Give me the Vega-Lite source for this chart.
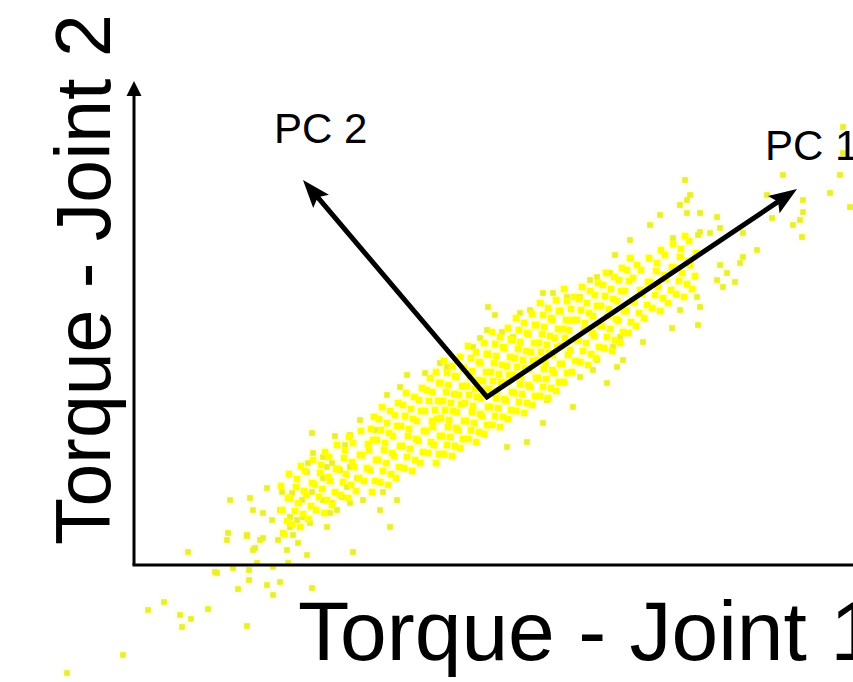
{
  "$schema": "https://vega.github.io/schema/vega-lite/v6.json",
  "autosize": {"type": "none"},
  "padding": 0,
  "width": 853,
  "height": 682,
  "background": "white",
  "config": {"view": {"stroke": null}},
  "datasets": {
    "outer": [
      {"x":-67,"y":-108},{"x":-11,"y":-90},{"x":14,"y":-45},{"x":30,"y":-37},{"x":46,"y":-50},{"x":57,"y":-54},{"x":48,"y":-62},{"x":74,"y":-44},{"x":113,"y":-61},{"x":81,"y":-7},{"x":99,"y":-3},{"x":115,"y":-5},{"x":115,"y":-15},{"x":104,"y":-24},{"x":133,"y":-20},{"x":146,"y":-17},{"x":139,"y":-30},{"x":54,"y":13},{"x":94,"y":32},{"x":113,"y":29},{"x":126,"y":25},{"x":119,"y":15},{"x":123,"y":2},{"x":139,"y":-2},{"x":154,"y":2},{"x":178,"y":-23},{"x":83,"y":-8},{"x":93,"y":25},
      {"x":133,"y":77},{"x":148,"y":73},{"x":158,"y":72},{"x":168,"y":65},{"x":178,"y":73},{"x":96,"y":65},{"x":116,"y":67},{"x":119,"y":55},{"x":129,"y":52},{"x":138,"y":45},{"x":146,"y":55},{"x":156,"y":48},{"x":163,"y":45},{"x":169,"y":48},{"x":176,"y":42},{"x":156,"y":38},{"x":149,"y":32},{"x":144,"y":25},{"x":159,"y":30},{"x":164,"y":22},{"x":153,"y":15},{"x":113,"y":30},{"x":129,"y":27},{"x":121,"y":17},{"x":173,"y":10},{"x":219,"y":13},{"x":193,"y":38},{"x":196,"y":52},{"x":203,"y":55},{"x":208,"y":68},{"x":216,"y":62},{"x":229,"y":65},{"x":246,"y":55},{"x":256,"y":38},{"x":249,"y":73},{"x":263,"y":65},{"x":189,"y":65},{"x":198,"y":62},
      {"x":178,"y":132},{"x":201,"y":129},{"x":216,"y":130},{"x":179,"y":112},{"x":174,"y":102},{"x":173,"y":93},{"x":189,"y":108},{"x":193,"y":98},{"x":198,"y":102},{"x":189,"y":87},{"x":206,"y":95},{"x":216,"y":98},{"x":213,"y":78},{"x":223,"y":87},{"x":226,"y":145},{"x":241,"y":135},{"x":211,"y":120},
      {"x":354,"y":258},{"x":361,"y":250},{"x":409,"y":272},{"x":419,"y":272},{"x":433,"y":268},{"x":446,"y":268},{"x":456,"y":285},{"x":463,"y":288},{"x":476,"y":292},{"x":273,"y":190},{"x":291,"y":192},{"x":306,"y":202},{"x":313,"y":198},{"x":266,"y":178},{"x":253,"y":170},{"x":339,"y":218},{"x":346,"y":227},{"x":353,"y":235},{"x":368,"y":233},{"x":379,"y":228},{"x":386,"y":252},{"x":396,"y":255},
      {"x":446,"y":188},{"x":459,"y":195},{"x":473,"y":182},{"x":483,"y":198},{"x":489,"y":205},{"x":439,"y":158},{"x":409,"y":142},{"x":393,"y":123},{"x":373,"y":118},{"x":413,"y":165},{"x":463,"y":205},{"x":486,"y":228},{"x":479,"y":218},
      {"x":551,"y":385},{"x":553,"y":365},{"x":553,"y":352},{"x":566,"y":352},{"x":583,"y":348},{"x":566,"y":333},{"x":576,"y":332},{"x":586,"y":337},{"x":539,"y":327},{"x":609,"y":332},{"x":623,"y":315},{"x":609,"y":308},{"x":606,"y":302},{"x":586,"y":300},{"x":593,"y":292},{"x":583,"y":285},{"x":589,"y":278},{"x":601,"y":283},{"x":563,"y":268},{"x":566,"y":258},{"x":546,"y":255},{"x":564,"y":240},{"x":538,"y":237},{"x":509,"y":223},
      {"x":638,"y":347},{"x":633,"y":370},{"x":649,"y":390},{"x":659,"y":340},{"x":666,"y":345},{"x":668,"y":328},{"x":669,"y":365},{"x":669,"y":353},{"x":696,"y":372},{"x":706,"y":390},{"x":716,"y":358},{"x":709,"y":438},{"x":709,"y":412},{"x":481,"y":310},{"x":496,"y":325},{"x":516,"y":340},{"x":526,"y":350},{"x":556,"y":370},{"x":546,"y":360},{"x":564,"y":330}
    ],
    "core": [
      {"x":150,"y":31},{"x":153,"y":44},{"x":148,"y":55},{"x":154,"y":67},{"x":147,"y":79},
      {"x":158,"y":41},{"x":161,"y":54},{"x":156,"y":67},{"x":162,"y":78},{"x":155,"y":91},
      {"x":166,"y":38},{"x":169,"y":51},{"x":164,"y":62},{"x":170,"y":74},{"x":163,"y":86},{"x":167,"y":99},
      {"x":174,"y":46},{"x":177,"y":59},{"x":172,"y":70},{"x":178,"y":82},{"x":171,"y":94},
      {"x":182,"y":55},{"x":185,"y":68},{"x":180,"y":81},{"x":186,"y":92},{"x":179,"y":105},
      {"x":190,"y":52},{"x":193,"y":65},{"x":188,"y":76},{"x":194,"y":88},{"x":187,"y":100},{"x":191,"y":113},
      {"x":198,"y":60},{"x":201,"y":73},{"x":196,"y":84},{"x":202,"y":96},{"x":195,"y":108},
      {"x":206,"y":70},{"x":209,"y":83},{"x":204,"y":96},{"x":210,"y":107},{"x":203,"y":120},
      {"x":214,"y":67},{"x":217,"y":80},{"x":212,"y":91},{"x":218,"y":103},{"x":211,"y":115},{"x":215,"y":128},
      {"x":222,"y":74},{"x":225,"y":87},{"x":220,"y":98},{"x":226,"y":110},{"x":219,"y":122},
      {"x":230,"y":84},{"x":233,"y":97},{"x":228,"y":110},{"x":234,"y":121},{"x":227,"y":134},
      {"x":238,"y":73},{"x":241,"y":84},{"x":236,"y":95},{"x":242,"y":105},{"x":235,"y":115},{"x":239,"y":125},{"x":237,"y":136},{"x":240,"y":148},
      {"x":246,"y":83},{"x":249,"y":94},{"x":244,"y":105},{"x":250,"y":115},{"x":243,"y":125},{"x":247,"y":135},{"x":245,"y":146},{"x":248,"y":158},
      {"x":254,"y":80},{"x":257,"y":91},{"x":252,"y":102},{"x":258,"y":112},{"x":251,"y":122},{"x":255,"y":132},{"x":253,"y":142},{"x":256,"y":154},
      {"x":262,"y":87},{"x":265,"y":98},{"x":260,"y":109},{"x":266,"y":119},{"x":259,"y":129},{"x":263,"y":139},{"x":261,"y":150},{"x":264,"y":162},
      {"x":270,"y":97},{"x":273,"y":108},{"x":268,"y":119},{"x":274,"y":129},{"x":267,"y":139},{"x":271,"y":149},{"x":269,"y":160},{"x":272,"y":172},
      {"x":278,"y":94},{"x":281,"y":105},{"x":276,"y":116},{"x":282,"y":126},{"x":275,"y":136},{"x":279,"y":146},{"x":277,"y":156},{"x":280,"y":168},
      {"x":286,"y":102},{"x":289,"y":113},{"x":284,"y":124},{"x":290,"y":134},{"x":283,"y":144},{"x":287,"y":154},{"x":285,"y":165},{"x":288,"y":177},
      {"x":294,"y":112},{"x":297,"y":123},{"x":292,"y":134},{"x":298,"y":144},{"x":291,"y":154},{"x":295,"y":164},{"x":293,"y":175},{"x":296,"y":187},
      {"x":302,"y":102},{"x":305,"y":111},{"x":300,"y":120},{"x":306,"y":129},{"x":299,"y":138},{"x":303,"y":146},{"x":301,"y":155},{"x":304,"y":164},{"x":298,"y":173},{"x":305,"y":182},{"x":302,"y":193},
      {"x":310,"y":111},{"x":313,"y":120},{"x":308,"y":129},{"x":314,"y":138},{"x":307,"y":147},{"x":311,"y":155},{"x":309,"y":164},{"x":312,"y":173},{"x":306,"y":182},{"x":313,"y":192},{"x":310,"y":204},
      {"x":318,"y":109},{"x":321,"y":119},{"x":316,"y":128},{"x":322,"y":137},{"x":315,"y":145},{"x":319,"y":154},{"x":317,"y":162},{"x":320,"y":171},{"x":314,"y":180},{"x":321,"y":189},{"x":318,"y":199},
      {"x":326,"y":117},{"x":329,"y":126},{"x":324,"y":135},{"x":330,"y":144},{"x":323,"y":153},{"x":327,"y":161},{"x":325,"y":170},{"x":328,"y":179},{"x":322,"y":188},{"x":329,"y":197},{"x":326,"y":208},
      {"x":334,"y":126},{"x":337,"y":135},{"x":332,"y":144},{"x":338,"y":153},{"x":331,"y":162},{"x":335,"y":170},{"x":333,"y":179},{"x":336,"y":188},{"x":330,"y":197},{"x":337,"y":207},{"x":334,"y":219},
      {"x":342,"y":123},{"x":345,"y":133},{"x":340,"y":142},{"x":346,"y":151},{"x":339,"y":159},{"x":343,"y":168},{"x":341,"y":176},{"x":344,"y":185},{"x":338,"y":194},{"x":345,"y":203},{"x":342,"y":213},
      {"x":350,"y":131},{"x":353,"y":140},{"x":348,"y":149},{"x":354,"y":158},{"x":347,"y":167},{"x":351,"y":175},{"x":349,"y":184},{"x":352,"y":193},{"x":346,"y":202},{"x":353,"y":211},{"x":350,"y":222},
      {"x":358,"y":140},{"x":361,"y":149},{"x":356,"y":158},{"x":362,"y":167},{"x":355,"y":176},{"x":359,"y":184},{"x":357,"y":193},{"x":360,"y":202},{"x":354,"y":211},{"x":361,"y":221},{"x":358,"y":233},
      {"x":366,"y":138},{"x":369,"y":148},{"x":364,"y":157},{"x":370,"y":166},{"x":363,"y":174},{"x":367,"y":183},{"x":365,"y":191},{"x":368,"y":200},{"x":362,"y":209},{"x":369,"y":218},{"x":366,"y":228},
      {"x":374,"y":146},{"x":377,"y":155},{"x":372,"y":164},{"x":378,"y":173},{"x":371,"y":182},{"x":375,"y":190},{"x":373,"y":199},{"x":376,"y":208},{"x":370,"y":217},{"x":377,"y":226},{"x":374,"y":237},
      {"x":382,"y":154},{"x":385,"y":163},{"x":380,"y":172},{"x":386,"y":181},{"x":379,"y":190},{"x":383,"y":198},{"x":381,"y":207},{"x":384,"y":216},{"x":378,"y":225},{"x":385,"y":235},{"x":382,"y":247},
      {"x":390,"y":152},{"x":393,"y":162},{"x":388,"y":171},{"x":394,"y":180},{"x":387,"y":188},{"x":391,"y":197},{"x":389,"y":205},{"x":392,"y":214},{"x":386,"y":223},{"x":393,"y":232},{"x":390,"y":242},
      {"x":398,"y":160},{"x":401,"y":169},{"x":396,"y":178},{"x":402,"y":187},{"x":395,"y":196},{"x":399,"y":204},{"x":397,"y":213},{"x":400,"y":222},{"x":394,"y":231},{"x":401,"y":240},{"x":398,"y":251},
      {"x":406,"y":169},{"x":409,"y":178},{"x":404,"y":187},{"x":410,"y":196},{"x":403,"y":205},{"x":407,"y":213},{"x":405,"y":222},{"x":408,"y":231},{"x":402,"y":240},{"x":409,"y":250},{"x":406,"y":262},
      {"x":414,"y":167},{"x":417,"y":177},{"x":412,"y":186},{"x":418,"y":195},{"x":411,"y":203},{"x":415,"y":212},{"x":413,"y":220},{"x":416,"y":229},{"x":410,"y":238},{"x":417,"y":247},{"x":414,"y":257},
      {"x":422,"y":174},{"x":425,"y":183},{"x":420,"y":192},{"x":426,"y":201},{"x":419,"y":210},{"x":423,"y":218},{"x":421,"y":227},{"x":424,"y":236},{"x":418,"y":245},{"x":425,"y":254},{"x":422,"y":265},
      {"x":430,"y":183},{"x":433,"y":192},{"x":428,"y":201},{"x":434,"y":210},{"x":427,"y":219},{"x":431,"y":227},{"x":429,"y":236},{"x":432,"y":245},{"x":426,"y":254},{"x":433,"y":264},{"x":430,"y":276},
      {"x":438,"y":193},{"x":441,"y":204},{"x":436,"y":215},{"x":442,"y":225},{"x":435,"y":235},{"x":439,"y":245},{"x":437,"y":256},{"x":440,"y":268},
      {"x":446,"y":203},{"x":449,"y":214},{"x":444,"y":225},{"x":450,"y":235},{"x":443,"y":245},{"x":447,"y":255},{"x":445,"y":266},{"x":448,"y":278},
      {"x":454,"y":200},{"x":457,"y":211},{"x":452,"y":222},{"x":458,"y":232},{"x":451,"y":242},{"x":455,"y":252},{"x":453,"y":262},{"x":456,"y":274},
      {"x":462,"y":207},{"x":465,"y":218},{"x":460,"y":229},{"x":466,"y":239},{"x":459,"y":249},{"x":463,"y":259},{"x":461,"y":270},{"x":464,"y":282},
      {"x":470,"y":217},{"x":473,"y":228},{"x":468,"y":239},{"x":474,"y":249},{"x":467,"y":259},{"x":471,"y":269},{"x":469,"y":280},{"x":472,"y":292},
      {"x":478,"y":214},{"x":481,"y":225},{"x":476,"y":236},{"x":482,"y":246},{"x":475,"y":256},{"x":479,"y":266},{"x":477,"y":276},{"x":480,"y":288},
      {"x":486,"y":222},{"x":489,"y":233},{"x":484,"y":244},{"x":490,"y":254},{"x":483,"y":264},{"x":487,"y":274},{"x":485,"y":285},{"x":488,"y":297},
      {"x":494,"y":232},{"x":497,"y":243},{"x":492,"y":254},{"x":498,"y":264},{"x":491,"y":274},{"x":495,"y":284},{"x":493,"y":295},{"x":496,"y":307},
      {"x":502,"y":239},{"x":505,"y":252},{"x":500,"y":263},{"x":506,"y":275},{"x":499,"y":287},{"x":503,"y":300},
      {"x":510,"y":247},{"x":513,"y":260},{"x":508,"y":271},{"x":514,"y":283},{"x":507,"y":295},
      {"x":518,"y":257},{"x":521,"y":270},{"x":516,"y":283},{"x":522,"y":294},{"x":515,"y":307},
      {"x":526,"y":254},{"x":529,"y":267},{"x":524,"y":278},{"x":530,"y":290},{"x":523,"y":302},{"x":527,"y":315},
      {"x":534,"y":262},{"x":537,"y":275},{"x":532,"y":286},{"x":538,"y":298},{"x":531,"y":310},
      {"x":542,"y":271},{"x":545,"y":284},{"x":540,"y":297},{"x":546,"y":308},{"x":539,"y":321},
      {"x":550,"y":268},{"x":553,"y":281},{"x":548,"y":292},{"x":554,"y":304},{"x":547,"y":316},{"x":551,"y":329},
      {"x":558,"y":276},{"x":561,"y":289},{"x":556,"y":300},{"x":562,"y":312},{"x":555,"y":324}
    ],
    "axes": [
      {"x":0,"y":0,"x2":0,"y2":470},
      {"x":-1.5,"y":0,"x2":725,"y2":0}
    ],
    "axisHead": [{"x":0,"y":476.5}],
    "pcPath": [
      {"x":178.5,"y":373.8,"o":0},
      {"x":353,"y":168,"o":1},
      {"x":650.8,"y":367.8,"o":2}
    ],
    "pcHeads": [
      {"x":650.8,"y":367.8,"a":56.1},
      {"x":178.5,"y":373.8,"a":319.7}
    ],
    "pcLabels": [
      {"x":140,"y":422,"t":"PC 2"},
      {"x":631,"y":405,"t":"PC 1"}
    ],
    "xTitle": [{"x":164,"y":-95,"t":"Torque - Joint 1"}],
    "yTitle": [{"x":-24,"y":20,"t":"Torque - Joint 2"}]
  },
  "encoding": {
    "x": {"field": "x", "type": "quantitative", "scale": {"domain": [-134, 719], "nice": false, "zero": false}, "axis": null},
    "y": {"field": "y", "type": "quantitative", "scale": {"domain": [-117, 565], "nice": false, "zero": false}, "axis": null}
  },
  "layer": [
    {
      "data": {"name": "outer"},
      "mark": {"type": "point", "shape": "square", "filled": true, "size": 110, "color": "#f4f560", "opacity": 0.12, "strokeWidth": 0}
    },
    {
      "data": {"name": "core"},
      "mark": {"type": "point", "shape": "square", "filled": true, "size": 130, "color": "#ffff40", "opacity": 0.12, "strokeWidth": 0}
    },
    {
      "data": {"name": "outer"},
      "mark": {"type": "point", "shape": "square", "filled": true, "size": 32, "color": "#eaee2c", "opacity": 1, "strokeWidth": 0}
    },
    {
      "data": {"name": "core"},
      "mark": {"type": "point", "shape": "square", "filled": true, "size": 44, "color": "#ffff00", "opacity": 1, "strokeWidth": 0}
    },
    {
      "data": {"name": "axes"},
      "mark": {"type": "rule", "color": "black", "strokeWidth": 3},
      "encoding": {
        "x2": {"field": "x2"},
        "y2": {"field": "y2"}
      }
    },
    {
      "data": {"name": "axisHead"},
      "mark": {"type": "point", "shape": "M0,-1L1,1L-1,1Z", "filled": true, "size": 225, "color": "black", "opacity": 1, "strokeWidth": 0}
    },
    {
      "data": {"name": "pcPath"},
      "mark": {"type": "line", "color": "black", "strokeWidth": 5, "strokeJoin": "miter", "strokeCap": "butt"},
      "encoding": {"order": {"field": "o", "type": "quantitative"}}
    },
    {
      "data": {"name": "pcHeads"},
      "mark": {"type": "point", "shape": "M0,-1L0.7,0.9L0,0.55L-0.7,0.9Z", "filled": true, "size": 866, "color": "black", "opacity": 1, "strokeWidth": 0},
      "encoding": {"angle": {"field": "a", "type": "quantitative", "scale": null}}
    },
    {
      "data": {"name": "pcLabels"},
      "mark": {"type": "text", "font": "Liberation Sans", "fontSize": 42, "align": "left", "baseline": "alphabetic", "color": "black"},
      "encoding": {"text": {"field": "t"}}
    },
    {
      "data": {"name": "xTitle"},
      "mark": {"type": "text", "font": "Liberation Sans", "fontSize": 84, "align": "left", "baseline": "alphabetic", "color": "black"},
      "encoding": {"text": {"field": "t"}}
    },
    {
      "data": {"name": "yTitle"},
      "mark": {"type": "text", "font": "Liberation Sans", "fontSize": 77, "align": "left", "baseline": "alphabetic", "angle": 270, "color": "black"},
      "encoding": {"text": {"field": "t"}}
    }
  ]
}
